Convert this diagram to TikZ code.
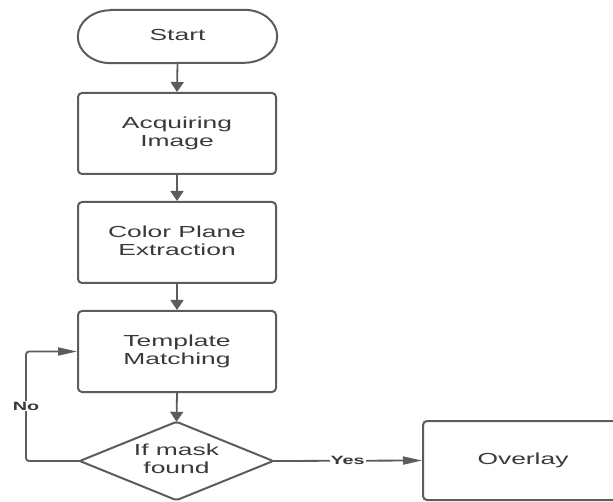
\documentclass[tikz,border=0pt]{standalone}
\usepackage{fontspec}
\usepackage{graphicx}
\setmainfont{Liberation Sans}
\usetikzlibrary{arrows.meta}
\definecolor{linegray}{HTML}{5C5C5C}
\definecolor{textgray}{HTML}{3A3A3A}
\newcommand\wtext[1]{\scalebox{1.65}[1]{\fontsize{16}{18}\selectfont\begin{tabular}{@{}c@{}}#1\end{tabular}}}
\newcommand\wlabel[1]{\scalebox{1.65}[1]{\fontsize{12}{14}\selectfont\bfseries #1}}
\tikzset{
  boxnode/.style={rectangle, draw=linegray, line width=2pt, rounded corners=4pt,
    minimum width=198pt, minimum height=81pt, inner sep=0pt, text=textgray},
  plainnode/.style={rectangle, inner sep=0pt, text=textgray},
  varrow/.style={draw=linegray, line width=1.8pt, -{Triangle[length=10pt,width=13pt]}},
  harrow/.style={draw=linegray, line width=1.8pt, -{Triangle[length=19pt,width=8pt]}},
  edgelabel/.style={fill=white, inner sep=1pt, text=textgray},
}
\begin{document}
\begin{tikzpicture}[x=1pt,y=1pt]
\useasboundingbox (0,0) rectangle (613,501);
\fill[white] (0,0) rectangle (613,501);

% Start (stadium)
\node[plainnode, minimum width=199pt, minimum height=53pt] (start) at (177.5,464.5) {\wtext{Start}};
\draw[draw=linegray, line width=2pt]
  ([xshift=33pt]start.north west) -- ([xshift=-33pt]start.north east)
  arc[start angle=90, end angle=-90, x radius=33pt, y radius=26.5pt]
  -- ([xshift=33pt]start.south west)
  arc[start angle=270, end angle=90, x radius=33pt, y radius=26.5pt] -- cycle;

\node[boxnode] (acq) at (177,367.5) {\wtext{Acquiring\\Image}};
\node[boxnode] (color) at (177,258.5) {\wtext{Color Plane\\Extraction}};
\node[boxnode] (tmpl) at (177,149.5) {\wtext{Template\\Matching}};

% Decision diamond
\node[plainnode, minimum width=193pt, minimum height=78pt] (dia) at (176.5,40) {\wtext{If mask\\found}};
\draw[draw=linegray, line width=2pt, rounded corners=2pt]
  (dia.north) -- (dia.east) -- (dia.south) -- (dia.west) -- cycle;

\node[boxnode, minimum width=200pt, minimum height=79pt] (over) at (523,40.5) {\wtext{Overlay}};

% Connectors
\draw[varrow] (start.south) -- (acq.north);
\draw[varrow] (acq.south) -- (color.north);
\draw[varrow] (color.south) -- (tmpl.north);
\draw[varrow] (tmpl.south) -- (dia.north);
\draw[harrow] (dia.east) -- node[edgelabel, pos=0.5] (yes) {\wlabel{Yes}} (over.west);

\coordinate (lb) at (26,40);
\coordinate (lt) at (26,149.5);
\draw[draw=linegray, line width=1.8pt, rounded corners=3pt] (dia.west) -- (lb) -- (lt) -- ([xshift=-10pt]tmpl.west);
\draw[harrow] ([xshift=-11pt]tmpl.west) -- (tmpl.west);
\node[edgelabel] (no) at (26,95) {\wlabel{No}};
\end{tikzpicture}
\end{document}
